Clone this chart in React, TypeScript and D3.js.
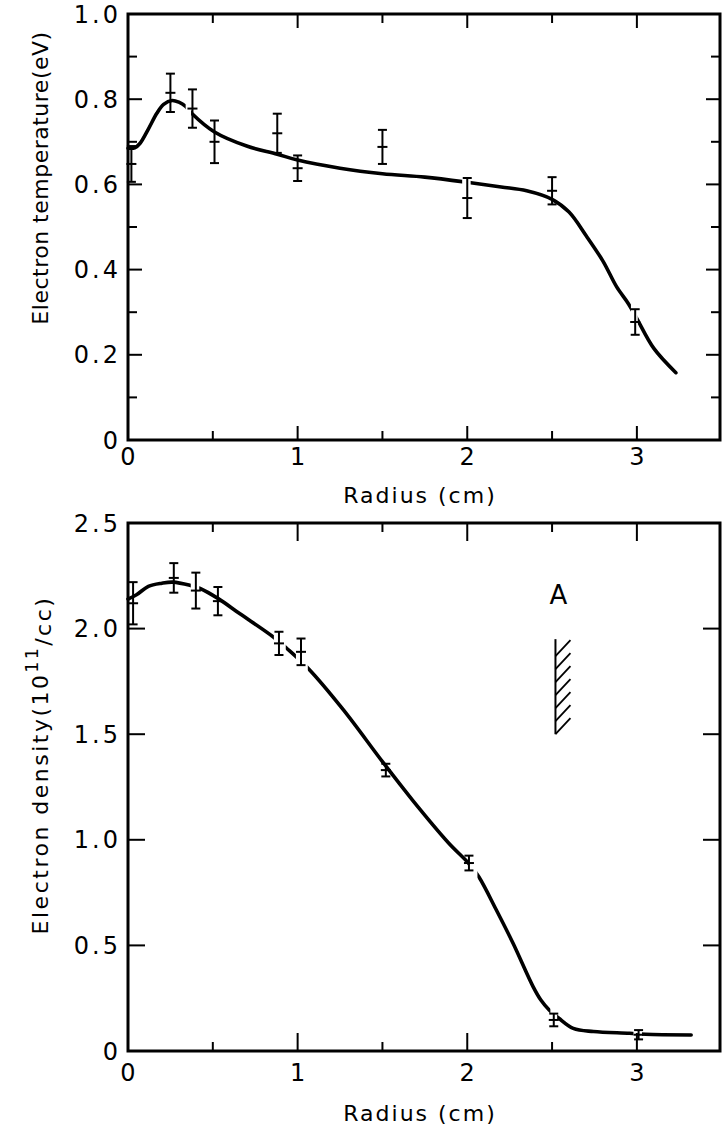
import React from "react";
import * as d3 from "d3";

// ---------- data ----------
const xTicksMajor = [0, 1, 2, 3];
const xTicksMinor = [0.5, 1.5, 2.5];
const xTickLabels = ["0", "1", "2", "3"];

// Electron temperature panel
const teTicksMajor = [0, 0.2, 0.4, 0.6, 0.8, 1.0];
const teTicksMinor = [0.1, 0.3, 0.5, 0.7, 0.9];
const teTickLabels = ["0", "0.2", "0.4", "0.6", "0.8", "1.0"];
const teCurveR = [0.0, 0.04, 0.07, 0.12, 0.17, 0.21, 0.26, 0.3, 0.34, 0.375, 0.51, 0.7, 0.88, 1.0, 1.25, 1.5, 1.75, 2.0, 2.2, 2.35, 2.5, 2.6, 2.7, 2.8, 2.88, 2.95, 3.0, 3.1, 3.23];
const teCurveV = [0.685, 0.686, 0.696, 0.73, 0.767, 0.788, 0.797, 0.793, 0.783, 0.767, 0.723, 0.69, 0.671, 0.657, 0.638, 0.625, 0.617, 0.605, 0.594, 0.585, 0.565, 0.535, 0.48, 0.42, 0.36, 0.32, 0.285, 0.215, 0.158];
const teGaps = [[0.34, 0.372], [1.97, 2.02], [2.965, 3.005]];
const tePointR = [0.02, 0.25, 0.38, 0.51, 0.88, 1.0, 1.5, 2.0, 2.5, 2.99];
const tePointV = [0.648, 0.815, 0.778, 0.7, 0.72, 0.638, 0.688, 0.568, 0.585, 0.277];
const tePointErr = [0.042, 0.045, 0.045, 0.05, 0.046, 0.03, 0.04, 0.047, 0.032, 0.03];

// Electron density panel
const neTicksMajor = [0, 0.5, 1.0, 1.5, 2.0, 2.5];
const neTickLabels = ["0", "0.5", "1.0", "1.5", "2.0", "2.5"];
const neCurveR = [0, 0.05, 0.12, 0.2, 0.265, 0.365, 0.425, 0.53, 0.66, 0.857, 0.935, 1.064, 1.27, 1.5, 1.677, 1.89, 2.008, 2.068, 2.17, 2.27, 2.388, 2.435, 2.483, 2.54, 2.625, 2.744, 2.957, 3.05, 3.32];
const neCurveV = [2.14, 2.16, 2.2, 2.215, 2.22, 2.205, 2.19, 2.143, 2.07, 1.96, 1.907, 1.81, 1.615, 1.37, 1.188, 0.985, 0.889, 0.825, 0.67, 0.51, 0.305, 0.24, 0.194, 0.155, 0.107, 0.092, 0.084, 0.079, 0.076];
const neGaps = [[0.37, 0.42], [0.86, 0.93], [0.99, 1.06], [2.01, 2.06], [2.49, 2.53], [2.98, 3.03]];
const nePointR = [0.03, 0.27, 0.4, 0.53, 0.89, 1.02, 1.52, 2.01, 2.51, 3.01];
const nePointV = [2.12, 2.24, 2.18, 2.13, 1.93, 1.89, 1.33, 0.89, 0.147, 0.077];
const nePointErr = [0.1, 0.07, 0.085, 0.067, 0.055, 0.063, 0.03, 0.035, 0.03, 0.022];

const markerLabel = "A";
const markerR = 2.52;
const markerLow = 1.5;
const markerHigh = 1.95;
const markerLabelV = 2.16;

const FONT = "'DejaVu Sans', 'Liberation Sans', Arial, sans-serif";
const X_LEFT = 128;
const X_RIGHT = 720;

type Scale = d3.ScaleLinear<number, number>;

type PanelProps = {
  top: number;
  bottom: number;
  yMax: number;
  majors: number[];
  minors: number[];
  labels: string[];
  curveR: number[];
  curveV: number[];
  gaps: number[][];
  pR: number[];
  pV: number[];
  pE: number[];
  id: string;
  xLabelOffset: number;
  titleOffset: number;
  yTitle: React.ReactNode;
  yTitleCenter: number;
  yTitleSpacing: number;
  xMajorLen: number;
  yMajorLen: number;
  extra?: (x: Scale, y: Scale) => React.ReactNode;
};

function Panel(p: PanelProps) {
  const x = d3.scaleLinear().domain([0, 3.49]).range([X_LEFT, X_RIGHT]);
  const y = d3.scaleLinear().domain([0, p.yMax]).range([p.bottom, p.top]);
  const line = d3
    .line<number>()
    .x((_, i) => x(p.curveR[i]))
    .y((v) => y(v))
    .curve(d3.curveCatmullRom.alpha(0.5));
  const path = line(p.curveV) || "";
  const visible: number[][] = [];
  let start = -0.2;
  p.gaps.forEach((g) => {
    visible.push([start, g[0]]);
    start = g[1];
  });
  visible.push([start, 3.6]);
  const minorLen = 9;
  return (
    <g>
      <defs>
        <clipPath id={p.id}>
          {visible.map((v, i) => (
            <rect key={i} x={x(v[0])} y={p.top - 20} width={x(v[1]) - x(v[0])} height={p.bottom - p.top + 40} />
          ))}
        </clipPath>
      </defs>
      <rect x={X_LEFT} y={p.top} width={X_RIGHT - X_LEFT} height={p.bottom - p.top} fill="none" stroke="#000" strokeWidth={3} />
      {xTicksMajor.map((t) => (
        <g key={"xm" + t}>
          <line x1={x(t)} x2={x(t)} y1={p.bottom} y2={p.bottom - p.xMajorLen} stroke="#000" strokeWidth={2} />
          <line x1={x(t)} x2={x(t)} y1={p.top} y2={p.top + p.xMajorLen} stroke="#000" strokeWidth={2} />
        </g>
      ))}
      {xTicksMinor.map((t) => (
        <g key={"xn" + t}>
          <line x1={x(t)} x2={x(t)} y1={p.bottom} y2={p.bottom - minorLen} stroke="#000" strokeWidth={2} />
          <line x1={x(t)} x2={x(t)} y1={p.top} y2={p.top + minorLen} stroke="#000" strokeWidth={2} />
        </g>
      ))}
      {p.majors.map((t) => (
        <g key={"ym" + t}>
          <line x1={X_LEFT} x2={X_LEFT + p.yMajorLen} y1={y(t)} y2={y(t)} stroke="#000" strokeWidth={2} />
          <line x1={X_RIGHT} x2={X_RIGHT - p.yMajorLen} y1={y(t)} y2={y(t)} stroke="#000" strokeWidth={2} />
        </g>
      ))}
      {p.minors.map((t) => (
        <g key={"yn" + t}>
          <line x1={X_LEFT} x2={X_LEFT + minorLen} y1={y(t)} y2={y(t)} stroke="#000" strokeWidth={2} />
          <line x1={X_RIGHT} x2={X_RIGHT - minorLen} y1={y(t)} y2={y(t)} stroke="#000" strokeWidth={2} />
        </g>
      ))}
      {p.majors.map((t, i) => (
        <text key={"yl" + t} x={121} y={y(t)} dy="0.36em" textAnchor="end" fontSize={24} letterSpacing={3} fontFamily={FONT}>
          {p.labels[i]}
        </text>
      ))}
      {xTicksMajor.map((t, i) => (
        <text key={"xl" + t} x={x(t)} y={p.bottom + p.xLabelOffset} dy="0.36em" textAnchor="middle" fontSize={24} fontFamily={FONT}>
          {xTickLabels[i]}
        </text>
      ))}
      <text x={420} y={p.bottom + p.titleOffset} dy="0.36em" textAnchor="middle" fontSize={22} letterSpacing={2} fontFamily={FONT}>
        Radius (cm)
      </text>
      <text
        transform={`translate(40,${p.yTitleCenter}) rotate(-90)`}
        dy="0.36em"
        textAnchor="middle"
        fontSize={22}
        letterSpacing={p.yTitleSpacing}
        fontFamily={FONT}
      >
        {p.yTitle}
      </text>
      <path d={path} fill="none" stroke="#000" strokeWidth={3.6} strokeLinecap="round" clipPath={`url(#${p.id})`} />
      {p.pR.map((r, i) => {
        const cx = x(r);
        const lo = y(p.pV[i] - p.pE[i]);
        const hi = y(p.pV[i] + p.pE[i]);
        const c = y(p.pV[i]);
        return (
          <g key={"e" + i} stroke="#000" strokeWidth={2}>
            <line x1={cx} x2={cx} y1={lo} y2={hi} />
            <line x1={cx - 4.5} x2={cx + 4.5} y1={lo} y2={lo} />
            <line x1={cx - 4.5} x2={cx + 4.5} y1={hi} y2={hi} />
            <line x1={cx - 5} x2={cx + 5} y1={c} y2={c} />
          </g>
        );
      })}
      {p.extra ? p.extra(x, y) : null}
    </g>
  );
}

function Marker({ x, y }: { x: Scale; y: Scale }) {
  const lx = x(markerR);
  const y0 = y(markerLow);
  const y1 = y(markerHigh);
  const n = 7;
  const step = (y0 - y1 - 4) / n;
  const strokes = d3.range(n).map((k) => y0 - k * step);
  return (
    <g>
      <text x={lx + 3} y={y(markerLabelV)} dy="0.36em" textAnchor="middle" fontSize={26} fontFamily={FONT}>
        {markerLabel}
      </text>
      <line x1={lx} x2={lx} y1={y0} y2={y1} stroke="#000" strokeWidth={2} />
      {strokes.map((s, i) => (
        <line key={i} x1={lx} y1={s} x2={lx + 15} y2={s - 16} stroke="#000" strokeWidth={1.8} />
      ))}
    </g>
  );
}

export default function App() {
  return (
    <svg width={722} height={1130} style={{ position: "absolute", left: 0, top: 0, background: "#fff" }} xmlns="http://www.w3.org/2000/svg">
      <rect x={0} y={0} width={722} height={1130} fill="#fff" />
      <Panel
        id="clipTe"
        top={14}
        bottom={440}
        yMax={1.0}
        majors={teTicksMajor}
        minors={teTicksMinor}
        labels={teTickLabels}
        curveR={teCurveR}
        curveV={teCurveV}
        gaps={teGaps}
        pR={tePointR}
        pV={tePointV}
        pE={tePointErr}
        xLabelOffset={16}
        titleOffset={55}
        yTitle={"Electron temperature(eV)"}
        yTitleCenter={178}
        yTitleSpacing={0.5}
        xMajorLen={14}
        yMajorLen={14}
      />
      <Panel
        id="clipNe"
        top={523}
        bottom={1051}
        yMax={2.5}
        majors={neTicksMajor}
        minors={[]}
        labels={neTickLabels}
        curveR={neCurveR}
        curveV={neCurveV}
        gaps={neGaps}
        pR={nePointR}
        pV={nePointV}
        pE={nePointErr}
        xLabelOffset={21}
        titleOffset={62}
        yTitle={
          <>
            Electron density(10
            <tspan dy="-0.6em" fontSize={17}>11</tspan>
            <tspan dy="0.6em">/cc)</tspan>
          </>
        }
        yTitleCenter={765}
        yTitleSpacing={2.5}
        xMajorLen={18}
        yMajorLen={17}
        extra={(x, y) => <Marker x={x} y={y} />}
      />
    </svg>
  );
}
